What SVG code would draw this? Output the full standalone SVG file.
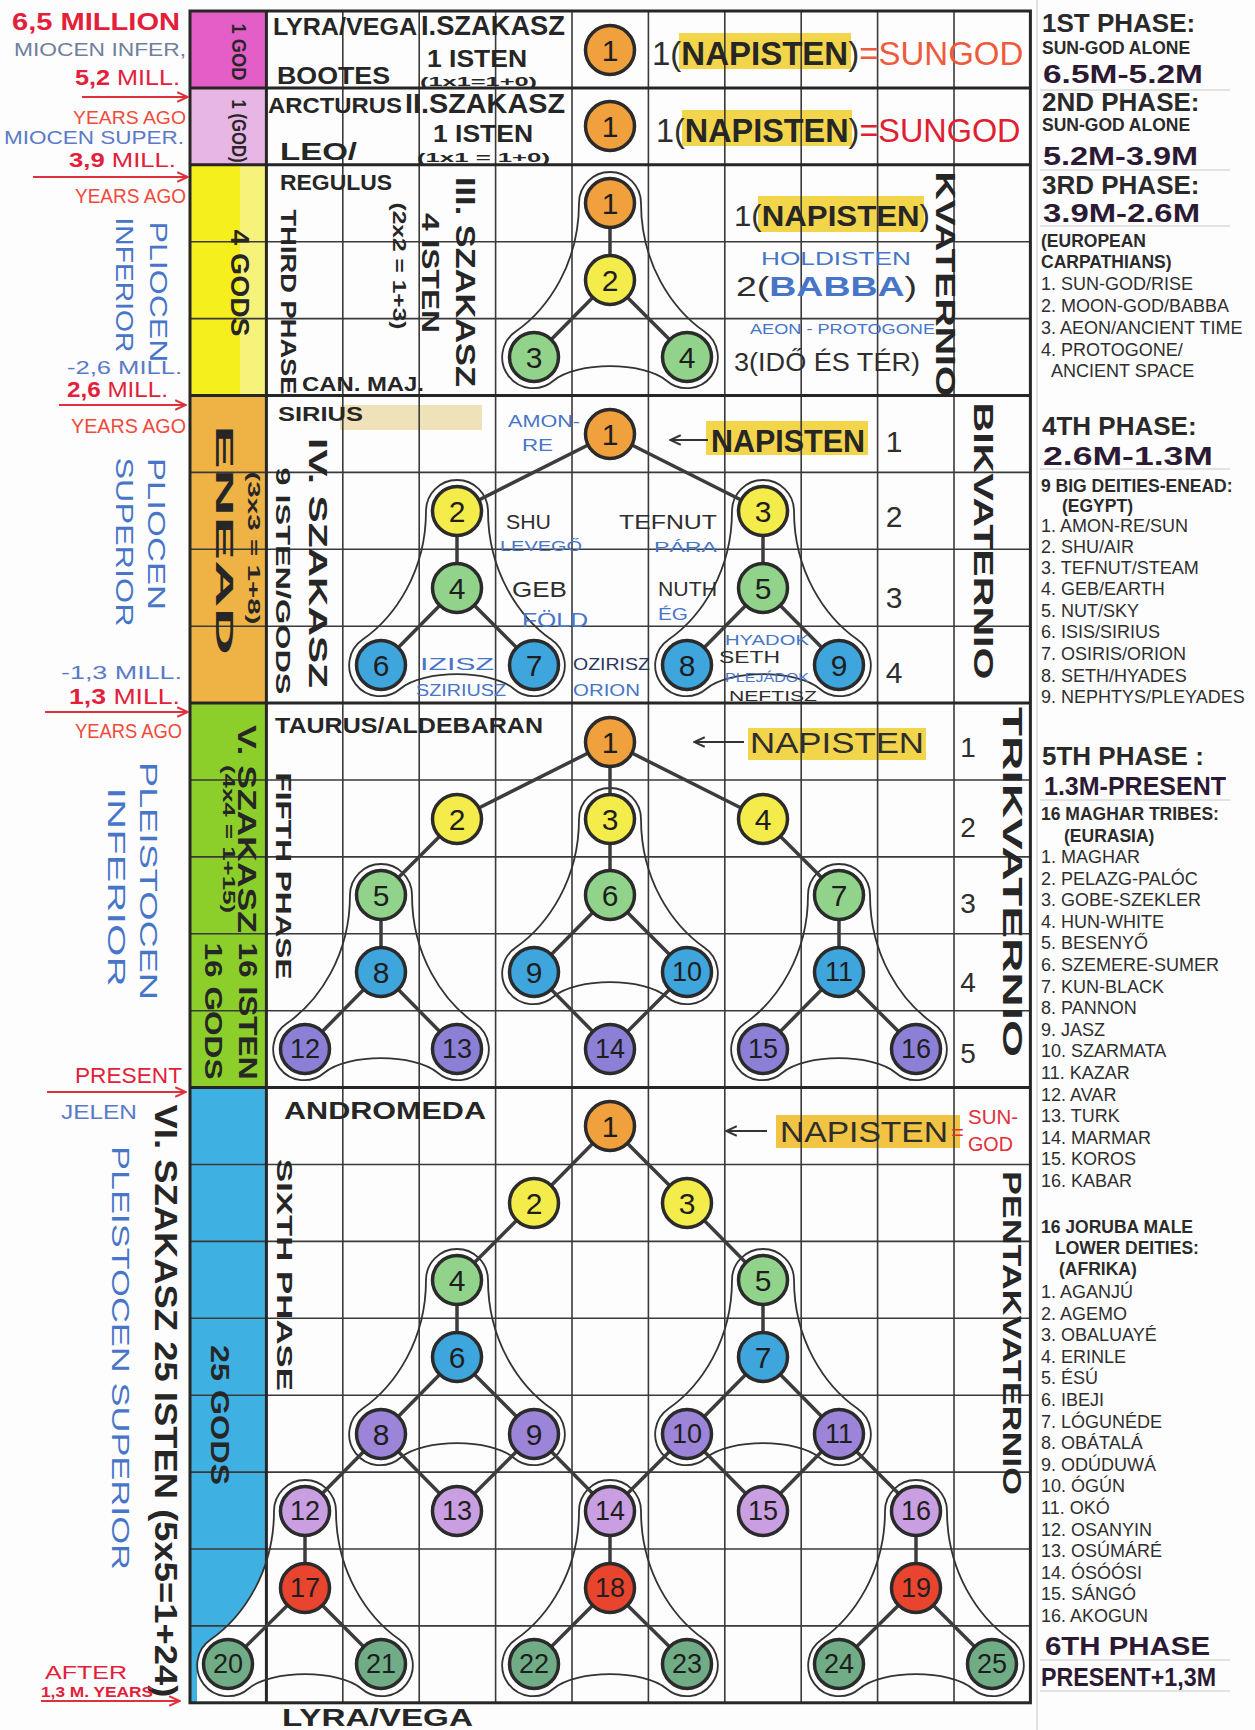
<svg xmlns="http://www.w3.org/2000/svg" width="1255" height="1730" viewBox="0 0 1255 1730">
<defs>
<style>
text{font-family:"Liberation Sans",Arial,sans-serif}
.g{fill:none;stroke:#3a3a3a;stroke-width:1.6}
.gt{fill:none;stroke:#262626;stroke-width:3}
.e{stroke:#3c3c3c;stroke-width:3.5;stroke-linecap:round}
.lp{fill:none;stroke:#333;stroke-width:1.8}
.c{stroke:#2b2b2b;stroke-width:3.5}
.or{fill:#f0a03c}.ye{fill:#f4ec4a}.gr{fill:#92d38c}.bu{fill:#3ea6dc}.pu{fill:#8c80d6}.pv{fill:#9c84d8}.li{fill:#c99fe2}.re{fill:#e8442e}.dg{fill:#70ad86}
.num{font-size:30px;fill:#1e1e1e;text-anchor:middle;dominant-baseline:central}
.n2{font-size:27px}
.hw{font-weight:bold;fill:#262626}
.th{fill:#2e2e2e}
.bt{fill:#4775c8}
.rt{fill:#e3203a}
.vt{text-anchor:middle;dominant-baseline:central}
.lg{font-size:18px;fill:#2e2e2e}
.lb{font-size:17.5px;font-weight:bold;fill:#2a2a2a}
.ph{font-size:26px;font-weight:bold;fill:#2a2a2a}
.dt{font-size:26px;font-weight:bold;fill:#2c1a35}
.hl{fill:#f3d54c}
.ar{stroke:#e0303a;stroke-width:2;fill:none}
.ak{stroke:#333;stroke-width:2;fill:none}
</style>
<marker id="mr" viewBox="0 0 10 10" refX="9" refY="5" markerWidth="12" markerHeight="12" markerUnits="userSpaceOnUse" orient="auto"><path d="M0 1L9 5L0 9" fill="none" stroke="#e0303a" stroke-width="1.6"/></marker>
<marker id="mk" viewBox="0 0 10 10" refX="9" refY="5" markerWidth="12" markerHeight="12" markerUnits="userSpaceOnUse" orient="auto"><path d="M0 1L9 5L0 9" fill="none" stroke="#333" stroke-width="1.6"/></marker>
<path id="loop" d="M-31 0C-31 60-61.5 105.6-94.3 128.6A31 31 0 1 0-56.6 177.7C-33.6 158.4 33.6 158.4 56.6 177.7A31 31 0 1 0 94.3 128.6C61.5 105.6 31 60 31 0A31 31 0 0 0-31 0Z"/>
</defs>
<rect width="1255" height="1730" fill="#fdfdfd"/>

<!-- color column -->
<g id="color-column">
<rect x="190" y="11" width="76.4" height="76.9" fill="#e45ec8"/>
<rect x="190" y="87.9" width="76.4" height="76.9" fill="#e8b6e4"/>
<rect x="190" y="164.8" width="76.4" height="230.7" fill="#f6ef1e"/>
<rect x="240" y="164.8" width="26.4" height="230.7" fill="#f7f27a"/>
<rect x="190" y="395.5" width="76.4" height="307.6" fill="#eeb245"/>
<rect x="190" y="703.1" width="76.4" height="384.5" fill="#8ccf2a"/>
<path d="M190 1087.6H266.4V1562C256 1592 236 1622 210.8 1639.5A31 31 0 0 0 197 1664V1702.8H190Z" fill="#3fb0e2"/>
</g>

<!-- highlights -->
<g id="highlights">
<rect class="hl" x="679" y="33" width="172" height="36"/>
<rect class="hl" x="682" y="110" width="170" height="36"/>
<rect class="hl" x="758" y="196" width="166" height="36"/>
<rect class="hl" x="706" y="421" width="162" height="34"/>
<rect class="hl" x="748" y="728" width="178" height="32"/>
<rect x="776" y="1115" width="184" height="33" fill="#f2c444"/>
<rect x="340" y="405" width="142" height="25" fill="#efe2b8"/>
</g>

<!-- grid -->
<g id="grid">
<path class="g" d="M190 241.7H1030.4M190 318.6H1030.4M190 472.4H1030.4M190 549.3H1030.4M190 626.2H1030.4M190 780H1030.4M190 856.9H1030.4M190 933.8H1030.4M190 1010.7H1030.4M190 1164.5H1030.4M190 1241.4H1030.4M190 1318.3H1030.4M190 1395.2H1030.4M190 1472.1H1030.4M190 1549H1030.4M190 1625.9H1030.4"/>
<path class="g" d="M342.8 11V1702.8M419.2 11V1702.8M495.6 11V1702.8M572 11V1702.8M648.4 11V1702.8M724.8 11V1702.8M801.2 11V1702.8M877.6 11V1702.8M954 11V1702.8"/>
<path class="gt" d="M190 87.9H1030.4M190 164.8H1030.4M190 395.5H1030.4M190 703.1H1030.4M190 1087.6H1030.4M266.4 11V1702.8"/>
<rect class="gt" x="190" y="11" width="840.4" height="1691.8"/>
<path d="M1037 0V1730" stroke="#cfcfcf" stroke-width="1.2"/>
</g>

<!-- groupings (loops) -->
<g id="groupings" class="lp">
<use href="#loop" transform="translate(610,203)"/>
<use href="#loop" transform="translate(457,511)"/>
<use href="#loop" transform="translate(763,511)"/>
<use href="#loop" transform="translate(381,895)"/>
<use href="#loop" transform="translate(610,819)"/>
<use href="#loop" transform="translate(839,895)"/>
<use href="#loop" transform="translate(457,1280)"/>
<use href="#loop" transform="translate(763,1280)"/>
<use href="#loop" transform="translate(305,1511)"/>
<use href="#loop" transform="translate(610,1511)"/>
<use href="#loop" transform="translate(916,1511)"/>
</g>

<!-- connectors -->
<g id="connectors" class="e">
<line x1="610" y1="203" x2="610" y2="280"/><line x1="610" y1="280" x2="534" y2="357"/><line x1="610" y1="280" x2="687" y2="357"/>
<line x1="610" y1="434" x2="457" y2="511"/><line x1="610" y1="434" x2="763" y2="511"/><line x1="457" y1="511" x2="457" y2="588"/><line x1="763" y1="511" x2="763" y2="588"/><line x1="457" y1="588" x2="381" y2="665"/><line x1="457" y1="588" x2="534" y2="665"/><line x1="763" y1="588" x2="687" y2="665"/><line x1="763" y1="588" x2="839" y2="665"/>
<line x1="610" y1="742" x2="457" y2="819"/><line x1="610" y1="742" x2="610" y2="819"/><line x1="610" y1="742" x2="763" y2="819"/><line x1="457" y1="819" x2="381" y2="895"/><line x1="610" y1="819" x2="610" y2="895"/><line x1="763" y1="819" x2="839" y2="895"/><line x1="381" y1="895" x2="381" y2="972"/><line x1="610" y1="895" x2="534" y2="972"/><line x1="610" y1="895" x2="687" y2="972"/><line x1="839" y1="895" x2="839" y2="972"/><line x1="381" y1="972" x2="305" y2="1049"/><line x1="381" y1="972" x2="457" y2="1049"/><line x1="534" y1="972" x2="610" y2="1049"/><line x1="687" y1="972" x2="610" y2="1049"/><line x1="839" y1="972" x2="763" y2="1049"/><line x1="839" y1="972" x2="916" y2="1049"/>
<line x1="610" y1="1126" x2="534" y2="1203"/><line x1="610" y1="1126" x2="687" y2="1203"/><line x1="534" y1="1203" x2="457" y2="1280"/><line x1="687" y1="1203" x2="763" y2="1280"/><line x1="457" y1="1280" x2="457" y2="1357"/><line x1="763" y1="1280" x2="763" y2="1357"/><line x1="457" y1="1357" x2="381" y2="1434"/><line x1="457" y1="1357" x2="534" y2="1434"/><line x1="763" y1="1357" x2="687" y2="1434"/><line x1="763" y1="1357" x2="839" y2="1434"/><line x1="381" y1="1434" x2="305" y2="1511"/><line x1="381" y1="1434" x2="457" y2="1511"/><line x1="534" y1="1434" x2="457" y2="1511"/><line x1="534" y1="1434" x2="610" y2="1511"/><line x1="687" y1="1434" x2="610" y2="1511"/><line x1="687" y1="1434" x2="763" y2="1511"/><line x1="839" y1="1434" x2="763" y2="1511"/><line x1="839" y1="1434" x2="916" y2="1511"/><line x1="305" y1="1511" x2="305" y2="1588"/><line x1="610" y1="1511" x2="610" y2="1588"/><line x1="916" y1="1511" x2="916" y2="1588"/><line x1="305" y1="1588" x2="228" y2="1664"/><line x1="305" y1="1588" x2="381" y2="1664"/><line x1="610" y1="1588" x2="534" y2="1664"/><line x1="610" y1="1588" x2="687" y2="1664"/><line x1="916" y1="1588" x2="839" y2="1664"/><line x1="916" y1="1588" x2="992" y2="1664"/>
</g>

<!-- nodes -->
<g id="p1-n1"><circle class="c or" cx="610" cy="50" r="24.5"/><text class="num" x="610" y="50">1</text></g>
<g id="p2-n1"><circle class="c or" cx="610" cy="126" r="24.5"/><text class="num" x="610" y="126">1</text></g>

<g id="p3-n1"><circle class="c or" cx="610" cy="203" r="24.5"/><text class="num" x="610" y="203">1</text></g>
<g id="p3-n2"><circle class="c ye" cx="610" cy="280" r="24.5"/><text class="num" x="610" y="280">2</text></g>
<g id="p3-n3"><circle class="c gr" cx="534" cy="357" r="24.5"/><text class="num" x="534" y="357">3</text></g>
<g id="p3-n4"><circle class="c gr" cx="687" cy="357" r="24.5"/><text class="num" x="687" y="357">4</text></g>

<g id="p4-n1"><circle class="c or" cx="610" cy="434" r="24.5"/><text class="num" x="610" y="434">1</text></g>
<g id="p4-n2"><circle class="c ye" cx="457" cy="511" r="24.5"/><text class="num" x="457" y="511">2</text></g>
<g id="p4-n3"><circle class="c ye" cx="763" cy="511" r="24.5"/><text class="num" x="763" y="511">3</text></g>
<g id="p4-n4"><circle class="c gr" cx="457" cy="588" r="24.5"/><text class="num" x="457" y="588">4</text></g>
<g id="p4-n5"><circle class="c gr" cx="763" cy="588" r="24.5"/><text class="num" x="763" y="588">5</text></g>
<g id="p4-n6"><circle class="c bu" cx="381" cy="665" r="24.5"/><text class="num" x="381" y="665">6</text></g>
<g id="p4-n7"><circle class="c bu" cx="534" cy="665" r="24.5"/><text class="num" x="534" y="665">7</text></g>
<g id="p4-n8"><circle class="c bu" cx="687" cy="665" r="24.5"/><text class="num" x="687" y="665">8</text></g>
<g id="p4-n9"><circle class="c bu" cx="839" cy="665" r="24.5"/><text class="num" x="839" y="665">9</text></g>

<g id="p5-n1"><circle class="c or" cx="610" cy="742" r="24.5"/><text class="num" x="610" y="742">1</text></g>
<g id="p5-n2"><circle class="c ye" cx="457" cy="819" r="24.5"/><text class="num" x="457" y="819">2</text></g>
<g id="p5-n3"><circle class="c ye" cx="610" cy="819" r="24.5"/><text class="num" x="610" y="819">3</text></g>
<g id="p5-n4"><circle class="c ye" cx="763" cy="819" r="24.5"/><text class="num" x="763" y="819">4</text></g>
<g id="p5-n5"><circle class="c gr" cx="381" cy="895" r="24.5"/><text class="num" x="381" y="895">5</text></g>
<g id="p5-n6"><circle class="c gr" cx="610" cy="895" r="24.5"/><text class="num" x="610" y="895">6</text></g>
<g id="p5-n7"><circle class="c gr" cx="839" cy="895" r="24.5"/><text class="num" x="839" y="895">7</text></g>
<g id="p5-n8"><circle class="c bu" cx="381" cy="972" r="24.5"/><text class="num" x="381" y="972">8</text></g>
<g id="p5-n9"><circle class="c bu" cx="534" cy="972" r="24.5"/><text class="num" x="534" y="972">9</text></g>
<g id="p5-n10"><circle class="c bu" cx="687" cy="972" r="24.5"/><text class="num n2" x="687" y="972">10</text></g>
<g id="p5-n11"><circle class="c bu" cx="839" cy="972" r="24.5"/><text class="num n2" x="839" y="972">11</text></g>
<g id="p5-n12"><circle class="c pu" cx="305" cy="1049" r="24.5"/><text class="num n2" x="305" y="1049">12</text></g>
<g id="p5-n13"><circle class="c pu" cx="457" cy="1049" r="24.5"/><text class="num n2" x="457" y="1049">13</text></g>
<g id="p5-n14"><circle class="c pu" cx="610" cy="1049" r="24.5"/><text class="num n2" x="610" y="1049">14</text></g>
<g id="p5-n15"><circle class="c pu" cx="763" cy="1049" r="24.5"/><text class="num n2" x="763" y="1049">15</text></g>
<g id="p5-n16"><circle class="c pu" cx="916" cy="1049" r="24.5"/><text class="num n2" x="916" y="1049">16</text></g>

<g id="p6-n1"><circle class="c or" cx="610" cy="1126" r="24.5"/><text class="num" x="610" y="1126">1</text></g>
<g id="p6-n2"><circle class="c ye" cx="534" cy="1203" r="24.5"/><text class="num" x="534" y="1203">2</text></g>
<g id="p6-n3"><circle class="c ye" cx="687" cy="1203" r="24.5"/><text class="num" x="687" y="1203">3</text></g>
<g id="p6-n4"><circle class="c gr" cx="457" cy="1280" r="24.5"/><text class="num" x="457" y="1280">4</text></g>
<g id="p6-n5"><circle class="c gr" cx="763" cy="1280" r="24.5"/><text class="num" x="763" y="1280">5</text></g>
<g id="p6-n6"><circle class="c bu" cx="457" cy="1357" r="24.5"/><text class="num" x="457" y="1357">6</text></g>
<g id="p6-n7"><circle class="c bu" cx="763" cy="1357" r="24.5"/><text class="num" x="763" y="1357">7</text></g>
<g id="p6-n8"><circle class="c pv" cx="381" cy="1434" r="24.5"/><text class="num" x="381" y="1434">8</text></g>
<g id="p6-n9"><circle class="c pv" cx="534" cy="1434" r="24.5"/><text class="num" x="534" y="1434">9</text></g>
<g id="p6-n10"><circle class="c pv" cx="687" cy="1434" r="24.5"/><text class="num n2" x="687" y="1434">10</text></g>
<g id="p6-n11"><circle class="c pv" cx="839" cy="1434" r="24.5"/><text class="num n2" x="839" y="1434">11</text></g>
<g id="p6-n12"><circle class="c li" cx="305" cy="1511" r="24.5"/><text class="num n2" x="305" y="1511">12</text></g>
<g id="p6-n13"><circle class="c li" cx="457" cy="1511" r="24.5"/><text class="num n2" x="457" y="1511">13</text></g>
<g id="p6-n14"><circle class="c li" cx="610" cy="1511" r="24.5"/><text class="num n2" x="610" y="1511">14</text></g>
<g id="p6-n15"><circle class="c li" cx="763" cy="1511" r="24.5"/><text class="num n2" x="763" y="1511">15</text></g>
<g id="p6-n16"><circle class="c li" cx="916" cy="1511" r="24.5"/><text class="num n2" x="916" y="1511">16</text></g>
<g id="p6-n17"><circle class="c re" cx="305" cy="1588" r="24.5"/><text class="num n2" x="305" y="1588">17</text></g>
<g id="p6-n18"><circle class="c re" cx="610" cy="1588" r="24.5"/><text class="num n2" x="610" y="1588">18</text></g>
<g id="p6-n19"><circle class="c re" cx="916" cy="1588" r="24.5"/><text class="num n2" x="916" y="1588">19</text></g>
<g id="p6-n20"><circle class="c dg" cx="228" cy="1664" r="24.5"/><text class="num n2" x="228" y="1664">20</text></g>
<g id="p6-n21"><circle class="c dg" cx="381" cy="1664" r="24.5"/><text class="num n2" x="381" y="1664">21</text></g>
<g id="p6-n22"><circle class="c dg" cx="534" cy="1664" r="24.5"/><text class="num n2" x="534" y="1664">22</text></g>
<g id="p6-n23"><circle class="c dg" cx="687" cy="1664" r="24.5"/><text class="num n2" x="687" y="1664">23</text></g>
<g id="p6-n24"><circle class="c dg" cx="839" cy="1664" r="24.5"/><text class="num n2" x="839" y="1664">24</text></g>
<g id="p6-n25"><circle class="c dg" cx="992" cy="1664" r="24.5"/><text class="num n2" x="992" y="1664">25</text></g>

<!-- grid texts -->
<g id="grid-text">
<text class="vt hw" font-size="20" transform="translate(239,52) rotate(90)" textLength="57" lengthAdjust="spacingAndGlyphs">1 GOD</text>
<text class="vt hw" font-size="20" transform="translate(239,131) rotate(90)" textLength="63" lengthAdjust="spacingAndGlyphs">1 (GOD)</text>
<text class="hw" x="273" y="35" font-size="24" textLength="144" lengthAdjust="spacingAndGlyphs">LYRA/VEGA</text>
<text class="hw" x="421" y="35" font-size="27" textLength="144" lengthAdjust="spacingAndGlyphs">I.SZAKASZ</text>
<text class="hw" x="427" y="67" font-size="24" textLength="100" lengthAdjust="spacingAndGlyphs">1 ISTEN</text>
<text class="hw" x="420" y="86" font-size="13" textLength="117" lengthAdjust="spacingAndGlyphs">(1x1=1+0)</text>
<text class="hw" x="277" y="84" font-size="24" textLength="113" lengthAdjust="spacingAndGlyphs">BOOTES</text>
<text class="th" x="652" y="65" font-size="33">1(<tspan class="hw">NAPISTEN</tspan>)<tspan fill="#ee5a3c">=SUNGOD</tspan></text>

<text class="hw" x="268" y="113" font-size="22" textLength="134" lengthAdjust="spacingAndGlyphs">ARCTURUS</text>
<text class="hw" x="405" y="113" font-size="27" textLength="160" lengthAdjust="spacingAndGlyphs">II.SZAKASZ</text>
<text class="hw" x="433" y="142" font-size="24" textLength="100" lengthAdjust="spacingAndGlyphs">1 ISTEN</text>
<text class="hw" x="417" y="162" font-size="13" textLength="133" lengthAdjust="spacingAndGlyphs">(1x1 = 1+0)</text>
<text class="hw" x="280" y="160" font-size="24" textLength="77" lengthAdjust="spacingAndGlyphs">LEO/</text>
<text class="th" x="656" y="142" font-size="32.4">1(<tspan class="hw">NAPISTEN</tspan>)<tspan fill="#e0202e">=SUNGOD</tspan></text>

<text class="hw" x="280" y="190" font-size="22" textLength="112" lengthAdjust="spacingAndGlyphs">REGULUS</text>
<text class="vt hw" font-size="26" transform="translate(240,283) rotate(90)" textLength="107" lengthAdjust="spacingAndGlyphs">4 GODS</text>
<text class="vt hw" font-size="22" transform="translate(288,302) rotate(90)" textLength="185" lengthAdjust="spacingAndGlyphs">THIRD PHASE</text>
<text class="vt hw" font-size="18" transform="translate(399,266) rotate(90)" textLength="127" lengthAdjust="spacingAndGlyphs">(2x2 = 1+3)</text>
<text class="vt hw" font-size="24" transform="translate(430,273) rotate(90)" textLength="120" lengthAdjust="spacingAndGlyphs">4 ISTEN</text>
<text class="vt hw" font-size="28" transform="translate(465,282) rotate(90)" textLength="210" lengthAdjust="spacingAndGlyphs">III. SZAKASZ</text>
<text class="hw" x="302" y="391" font-size="20" textLength="122" lengthAdjust="spacingAndGlyphs">CAN. MAJ.</text>
<text class="th" x="734" y="226" font-size="30" textLength="196" lengthAdjust="spacingAndGlyphs">1(<tspan class="hw">NAPISTEN</tspan>)</text>
<text class="bt" x="761" y="265" font-size="18" textLength="150" lengthAdjust="spacingAndGlyphs">HOLDISTEN</text>
<text class="th" x="736" y="296" font-size="28" textLength="181" lengthAdjust="spacingAndGlyphs">2(<tspan class="bt" font-weight="bold">BABBA</tspan>)</text>
<text class="bt" x="750" y="334" font-size="15" textLength="185" lengthAdjust="spacingAndGlyphs">AEON - PROTOGONE</text>
<text class="th" x="734" y="371" font-size="26" textLength="186" lengthAdjust="spacingAndGlyphs">3(IDŐ ÉS TÉR)</text>
<text class="vt hw" font-size="28" transform="translate(945,284) rotate(90)" textLength="225" lengthAdjust="spacingAndGlyphs">KVATERNIO</text>

<text class="hw" x="278" y="421" font-size="20" textLength="85" lengthAdjust="spacingAndGlyphs">SIRIUS</text>
<text class="vt hw" font-size="24" transform="translate(224,540) rotate(90)" textLength="230" lengthAdjust="spacingAndGlyphs">ENEAD</text>
<text class="vt hw" font-size="17" transform="translate(253,548) rotate(90)" textLength="153" lengthAdjust="spacingAndGlyphs">(3x3 = 1+8)</text>
<text class="vt hw" font-size="20" transform="translate(283,581) rotate(90)" textLength="227" lengthAdjust="spacingAndGlyphs">9 ISTEN/GODS</text>
<text class="vt hw" font-size="26" transform="translate(318,563) rotate(90)" textLength="250" lengthAdjust="spacingAndGlyphs">IV. SZAKASZ</text>
<text class="bt" x="508" y="427" font-size="17" textLength="72" lengthAdjust="spacingAndGlyphs">AMON-</text>
<text class="bt" x="522" y="451" font-size="17" textLength="31" lengthAdjust="spacingAndGlyphs">RE</text>
<line class="ak" x1="708" y1="440" x2="670" y2="440" marker-end="url(#mk)"/>
<text class="hw" x="711" y="452" font-size="32" textLength="154" lengthAdjust="spacingAndGlyphs">NAPISTEN</text>
<text class="th" x="894" y="452" font-size="30" text-anchor="middle">1</text>
<text class="th" x="894" y="527" font-size="30" text-anchor="middle">2</text>
<text class="th" x="894" y="608" font-size="30" text-anchor="middle">3</text>
<text class="th" x="894" y="683" font-size="30" text-anchor="middle">4</text>
<text class="vt hw" font-size="28" transform="translate(983,541) rotate(90)" textLength="277" lengthAdjust="spacingAndGlyphs">BIKVATERNIO</text>
<text class="th" x="506" y="529" font-size="20" textLength="45" lengthAdjust="spacingAndGlyphs">SHU</text>
<text class="bt" x="500" y="551" font-size="15" textLength="82" lengthAdjust="spacingAndGlyphs">LEVEGŐ</text>
<text class="th" x="619" y="529" font-size="20" textLength="98" lengthAdjust="spacingAndGlyphs">TEFNUT</text>
<text class="bt" x="654" y="552" font-size="15" textLength="63" lengthAdjust="spacingAndGlyphs">PÁRA</text>
<text class="th" x="512" y="597" font-size="22" textLength="55" lengthAdjust="spacingAndGlyphs">GEB</text>
<text class="bt" x="522" y="627" font-size="20" textLength="66" lengthAdjust="spacingAndGlyphs">FÖLD</text>
<text class="th" x="658" y="596" font-size="20" textLength="59" lengthAdjust="spacingAndGlyphs">NUTH</text>
<text class="bt" x="658" y="620" font-size="16" textLength="30" lengthAdjust="spacingAndGlyphs">ÉG</text>
<text class="bt" x="420" y="670" font-size="17" textLength="74" lengthAdjust="spacingAndGlyphs">IZISZ</text>
<text class="bt" x="416" y="696" font-size="16" textLength="90" lengthAdjust="spacingAndGlyphs">SZIRIUSZ</text>
<text x="573" y="670" font-size="17" fill="#2a3560" textLength="77" lengthAdjust="spacingAndGlyphs">OZIRISZ</text>
<text class="bt" x="573" y="696" font-size="16" textLength="67" lengthAdjust="spacingAndGlyphs">ORION</text>
<text class="bt" x="725" y="645" font-size="14" textLength="84" lengthAdjust="spacingAndGlyphs">HYADOK</text>
<text class="th" x="719" y="663" font-size="16" textLength="61" lengthAdjust="spacingAndGlyphs">SETH</text>
<text class="bt" x="725" y="682" font-size="13" textLength="84" lengthAdjust="spacingAndGlyphs">PLEJÁDOK</text>
<text class="th" x="729" y="701" font-size="15" textLength="88" lengthAdjust="spacingAndGlyphs">NEFTISZ</text>

<text class="vt hw" font-size="26" transform="translate(247,829) rotate(90)" textLength="208" lengthAdjust="spacingAndGlyphs">V. SZAKASZ</text>
<text class="vt hw" font-size="17" transform="translate(228,839) rotate(90)" textLength="148" lengthAdjust="spacingAndGlyphs">(4x4 = 1+15)</text>
<text class="vt hw" font-size="26" transform="translate(248,1011) rotate(90)" textLength="137" lengthAdjust="spacingAndGlyphs">16 ISTEN</text>
<text class="vt hw" font-size="24" transform="translate(213,1011) rotate(90)" textLength="137" lengthAdjust="spacingAndGlyphs">16 GODS</text>
<text class="vt hw" font-size="22" transform="translate(283,876) rotate(90)" textLength="207" lengthAdjust="spacingAndGlyphs">FIFTH PHASE</text>
<text class="hw" x="275" y="733" font-size="22" textLength="268" lengthAdjust="spacingAndGlyphs">TAURUS/ALDEBARAN</text>
<line class="ak" x1="744" y1="742" x2="694" y2="742" marker-end="url(#mk)"/>
<text class="th" x="750" y="753" font-size="30" textLength="174" lengthAdjust="spacingAndGlyphs">NAPISTEN</text>
<text class="th" x="968" y="757" font-size="28" text-anchor="middle">1</text>
<text class="th" x="968" y="837" font-size="28" text-anchor="middle">2</text>
<text class="th" x="968" y="913" font-size="28" text-anchor="middle">3</text>
<text class="th" x="968" y="992" font-size="28" text-anchor="middle">4</text>
<text class="th" x="968" y="1063" font-size="28" text-anchor="middle">5</text>
<text class="vt hw" font-size="28" transform="translate(1012,882) rotate(90)" textLength="350" lengthAdjust="spacingAndGlyphs">TRIKVATERNIO</text>

<text class="vt hw" font-size="26" transform="translate(220,1415) rotate(90)" textLength="140" lengthAdjust="spacingAndGlyphs">25 GODS</text>
<text class="vt hw" font-size="22" transform="translate(284,1275) rotate(90)" textLength="232" lengthAdjust="spacingAndGlyphs">SIXTH PHASE</text>
<text class="hw" x="284" y="1119" font-size="24" textLength="202" lengthAdjust="spacingAndGlyphs">ANDROMEDA</text>
<line class="ak" x1="767" y1="1131" x2="726" y2="1131" marker-end="url(#mk)"/>
<text class="th" x="780" y="1142" font-size="30" textLength="168" lengthAdjust="spacingAndGlyphs">NAPISTEN</text>
<text x="951" y="1140" font-size="22" fill="#e0303a">=</text>
<text x="968" y="1124" font-size="20" fill="#e0303a" textLength="50" lengthAdjust="spacingAndGlyphs">SUN-</text>
<text x="968" y="1151" font-size="20" fill="#e0303a" textLength="45" lengthAdjust="spacingAndGlyphs">GOD</text>
<text class="vt hw" font-size="26" transform="translate(1012,1333) rotate(90)" textLength="324" lengthAdjust="spacingAndGlyphs">PENTAKVATERNIO</text>
<text class="hw" x="282" y="1726" font-size="24" textLength="191" lengthAdjust="spacingAndGlyphs">LYRA/VEGA</text>
</g>

<!-- left time column -->
<g id="time-axis">
<text x="12" y="30" font-size="24" font-weight="bold" fill="#e3203a" textLength="168" lengthAdjust="spacingAndGlyphs">6,5 MILLION</text>
<text x="14" y="56" font-size="19" fill="#6f7f9c" textLength="172" lengthAdjust="spacingAndGlyphs">MIOCEN INFER,</text>
<text x="75" y="85" font-size="22" fill="#e3203a" textLength="105" lengthAdjust="spacingAndGlyphs"><tspan font-weight="bold">5,2</tspan> MILL.</text>
<line class="ar" x1="82" y1="97" x2="188" y2="97" marker-end="url(#mr)"/>
<text x="73" y="124" font-size="19" fill="#f04a3a" textLength="113" lengthAdjust="spacingAndGlyphs">YEARS AGO</text>
<text x="4" y="144" font-size="19" fill="#5a7ac8" textLength="180" lengthAdjust="spacingAndGlyphs">MIOCEN SUPER.</text>
<text x="69" y="167" font-size="20" fill="#e3203a" textLength="107" lengthAdjust="spacingAndGlyphs"><tspan font-weight="bold">3,9</tspan> MILL.</text>
<line class="ar" x1="33" y1="177" x2="188" y2="177" marker-end="url(#mr)"/>
<text x="75" y="203" font-size="20" fill="#f04a3a" textLength="111" lengthAdjust="spacingAndGlyphs">YEARS AGO</text>
<text class="vt bt" font-size="24" transform="translate(158,292) rotate(90)" textLength="141" lengthAdjust="spacingAndGlyphs">PLIOCEN</text>
<text class="vt bt" font-size="24" transform="translate(124,285) rotate(90)" textLength="135" lengthAdjust="spacingAndGlyphs">INFERIOR</text>
<text x="67" y="374" font-size="18" fill="#5a7ac8" textLength="115" lengthAdjust="spacingAndGlyphs">-2,6 MILL.</text>
<text x="67" y="397" font-size="22" fill="#e3203a" textLength="101" lengthAdjust="spacingAndGlyphs"><tspan font-weight="bold">2,6</tspan> MILL.</text>
<line class="ar" x1="59" y1="405" x2="186" y2="405" marker-end="url(#mr)"/>
<text x="71" y="433" font-size="20" fill="#f04a3a" textLength="115" lengthAdjust="spacingAndGlyphs">YEARS AGO</text>
<text class="vt bt" font-size="24" transform="translate(156,534) rotate(90)" textLength="152" lengthAdjust="spacingAndGlyphs">PLIOCEN</text>
<text class="vt bt" font-size="24" transform="translate(124,542) rotate(90)" textLength="169" lengthAdjust="spacingAndGlyphs">SUPERIOR</text>
<text x="61" y="679" font-size="18" fill="#5a7ac8" textLength="121" lengthAdjust="spacingAndGlyphs">-1,3 MILL.</text>
<text x="69" y="704" font-size="22" fill="#e3203a" textLength="111" lengthAdjust="spacingAndGlyphs"><tspan font-weight="bold">1,3</tspan> MILL.</text>
<line class="ar" x1="45" y1="712" x2="188" y2="712" marker-end="url(#mr)"/>
<text x="75" y="738" font-size="20" fill="#f04a3a" textLength="107" lengthAdjust="spacingAndGlyphs">YEARS AGO</text>
<text class="vt bt" font-size="24" transform="translate(148,881) rotate(90)" textLength="238" lengthAdjust="spacingAndGlyphs">PLEISTOCEN</text>
<text class="vt bt" font-size="24" transform="translate(116,887) rotate(90)" textLength="199" lengthAdjust="spacingAndGlyphs">INFERIOR</text>
<text x="75" y="1083" font-size="22" fill="#e3203a" textLength="107" lengthAdjust="spacingAndGlyphs">PRESENT</text>
<line class="ar" x1="47" y1="1092" x2="186" y2="1092" marker-end="url(#mr)"/>
<text x="61" y="1119" font-size="20" fill="#5a7ac8" textLength="76" lengthAdjust="spacingAndGlyphs">JELEN</text>
<text class="vt bt" font-size="24" transform="translate(120,1358) rotate(90)" textLength="424" lengthAdjust="spacingAndGlyphs">PLEISTOCEN SUPERIOR</text>
<text class="vt hw" font-size="32" transform="translate(166,1401) rotate(90)" textLength="593" lengthAdjust="spacingAndGlyphs">VI. SZAKASZ 25 ISTEN (5x5=1+24)</text>
<text x="45" y="1679" font-size="19" fill="#e3203a" textLength="82" lengthAdjust="spacingAndGlyphs">AFTER</text>
<text x="41" y="1697" font-size="15" font-weight="bold" fill="#e3203a" textLength="112" lengthAdjust="spacingAndGlyphs">1,3 M. YEARS</text>
<line class="ar" x1="41" y1="1701" x2="180" y2="1701" marker-end="url(#mr)"/>
</g>

<!-- legend -->
<g id="legend">
<path d="M1040 90H1230M1040 170H1230M1040 226H1230M1040 469H1230M1040 800H1230M1040 1660H1230M1040 1691H1230" stroke="#c8c8c8" stroke-width="1"/>
<text class="ph" x="1042" y="32">1ST PHASE:</text>
<text class="lb" x="1042" y="54">SUN-GOD ALONE</text>
<text class="dt" x="1043" y="83" textLength="160" lengthAdjust="spacingAndGlyphs">6.5M-5.2M</text>
<text class="ph" x="1042" y="111" font-size="25">2ND PHASE:</text>
<text class="lb" x="1042" y="131">SUN-GOD ALONE</text>
<text class="dt" x="1043" y="165" textLength="155" lengthAdjust="spacingAndGlyphs">5.2M-3.9M</text>
<text class="ph" x="1042" y="194" font-size="25">3RD PHASE:</text>
<text class="dt" x="1043" y="222" textLength="157" lengthAdjust="spacingAndGlyphs">3.9M-2.6M</text>
<text class="lb" x="1041" y="247">(EUROPEAN</text>
<text class="lb" x="1041" y="268">CARPATHIANS)</text>
<text class="lg" x="1041" y="290">1. SUN-GOD/RISE</text>
<text class="lg" x="1041" y="312">2. MOON-GOD/BABBA</text>
<text class="lg" x="1041" y="334">3. AEON/ANCIENT TIME</text>
<text class="lg" x="1041" y="356">4. PROTOGONE/</text>
<text class="lg" x="1051" y="377">ANCIENT SPACE</text>

<text class="ph" x="1042" y="435">4TH PHASE:</text>
<text class="dt" x="1043" y="465" textLength="170" lengthAdjust="spacingAndGlyphs">2.6M-1.3M</text>
<text class="lb" x="1041" y="492">9 BIG DEITIES-ENEAD:</text>
<text class="lb" x="1062" y="512">(EGYPT)</text>
<text class="lg" x="1041" y="532">1. AMON-RE/SUN</text>
<text class="lg" x="1041" y="553">2. SHU/AIR</text>
<text class="lg" x="1041" y="574">3. TEFNUT/STEAM</text>
<text class="lg" x="1041" y="595">4. GEB/EARTH</text>
<text class="lg" x="1041" y="617">5. NUT/SKY</text>
<text class="lg" x="1041" y="638">6. ISIS/SIRIUS</text>
<text class="lg" x="1041" y="660">7. OSIRIS/ORION</text>
<text class="lg" x="1041" y="682">8. SETH/HYADES</text>
<text class="lg" x="1041" y="703">9. NEPHTYS/PLEYADES</text>

<text class="ph" x="1042" y="765">5TH PHASE :</text>
<text class="dt" x="1044" y="795" textLength="182" lengthAdjust="spacingAndGlyphs">1.3M-PRESENT</text>
<text class="lb" x="1041" y="820">16 MAGHAR TRIBES:</text>
<text class="lb" x="1064" y="842">(EURASIA)</text>
<text class="lg" x="1041" y="863">1. MAGHAR</text>
<text class="lg" x="1041" y="884.6">2. PELAZG-PALÓC</text>
<text class="lg" x="1041" y="906.2">3. GOBE-SZEKLER</text>
<text class="lg" x="1041" y="927.8">4. HUN-WHITE</text>
<text class="lg" x="1041" y="949.4">5. BESENYŐ</text>
<text class="lg" x="1041" y="971">6. SZEMERE-SUMER</text>
<text class="lg" x="1041" y="992.6">7. KUN-BLACK</text>
<text class="lg" x="1041" y="1014.2">8. PANNON</text>
<text class="lg" x="1041" y="1035.8">9. JASZ</text>
<text class="lg" x="1041" y="1057.4">10. SZARMATA</text>
<text class="lg" x="1041" y="1079">11. KAZAR</text>
<text class="lg" x="1041" y="1100.6">12. AVAR</text>
<text class="lg" x="1041" y="1122.2">13. TURK</text>
<text class="lg" x="1041" y="1143.8">14. MARMAR</text>
<text class="lg" x="1041" y="1165.4">15. KOROS</text>
<text class="lg" x="1041" y="1187">16. KABAR</text>

<text class="lb" x="1041" y="1233">16 JORUBA MALE</text>
<text class="lb" x="1055" y="1254">LOWER DEITIES:</text>
<text class="lb" x="1059" y="1275">(AFRIKA)</text>
<text class="lg" x="1041" y="1298">1. AGANJÚ</text>
<text class="lg" x="1041" y="1319.6">2. AGEMO</text>
<text class="lg" x="1041" y="1341.2">3. OBALUAYÉ</text>
<text class="lg" x="1041" y="1362.8">4. ERINLE</text>
<text class="lg" x="1041" y="1384.4">5. ÉSÚ</text>
<text class="lg" x="1041" y="1406">6. IBEJI</text>
<text class="lg" x="1041" y="1427.6">7. LÓGUNÉDE</text>
<text class="lg" x="1041" y="1449.2">8. OBÁTALÁ</text>
<text class="lg" x="1041" y="1470.8">9. ODÚDUWÁ</text>
<text class="lg" x="1041" y="1492.4">10. ÓGÚN</text>
<text class="lg" x="1041" y="1514">11. OKÓ</text>
<text class="lg" x="1041" y="1535.6">12. OSANYIN</text>
<text class="lg" x="1041" y="1557.2">13. OSÚMÁRÉ</text>
<text class="lg" x="1041" y="1578.8">14. ÓSÓÓSI</text>
<text class="lg" x="1041" y="1600.4">15. SÁNGÓ</text>
<text class="lg" x="1041" y="1622">16. AKOGUN</text>
<text class="dt" x="1045" y="1655" textLength="165" lengthAdjust="spacingAndGlyphs">6TH PHASE</text>
<text class="dt" x="1041" y="1686" font-size="22" textLength="175" lengthAdjust="spacingAndGlyphs">PRESENT+1,3M</text>
</g>
</svg>
